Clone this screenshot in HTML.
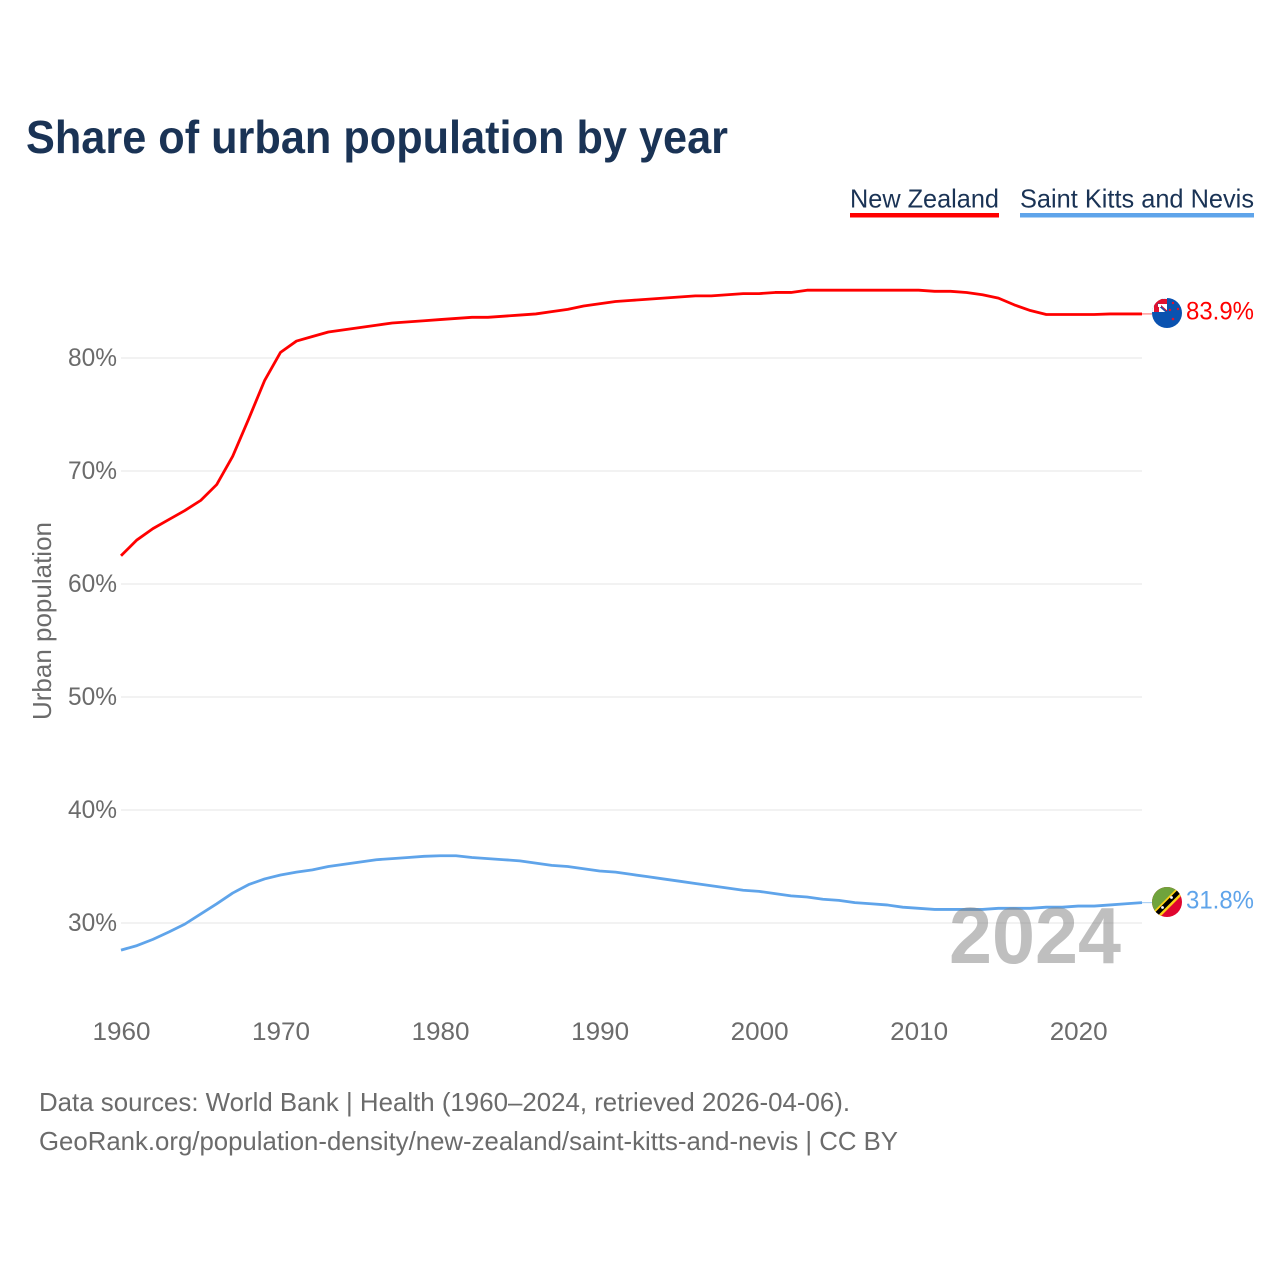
<!DOCTYPE html>
<html lang="en">
<head>
<meta charset="utf-8">
<title>Share of urban population by year</title>
<style>
html,body{margin:0;padding:0;background:#fff;}
svg{display:block;font-family:"Liberation Sans",sans-serif;}
</style>
</head>
<body>
<svg id="chart" width="1280" height="1280" viewBox="0 0 1280 1280" xmlns="http://www.w3.org/2000/svg">
  <defs>
    <clipPath id="flag-clip-nz"><circle cx="1167" cy="313" r="15"/></clipPath>
    <clipPath id="flag-clip-kn"><circle cx="1167" cy="902" r="15"/></clipPath>
  </defs>
  <rect width="1280" height="1280" fill="#ffffff"/>
  <text x="26" y="153" font-size="46" font-weight="700" fill="#1a3355" textLength="702" lengthAdjust="spacingAndGlyphs">Share of urban population by year</text>

  <g>
    <g>
      <text x="850" y="207.5" font-size="26" fill="#1a3355" textLength="149" lengthAdjust="spacingAndGlyphs">New Zealand</text>
      <rect x="850" y="213" width="149" height="4.5" fill="#ff0000"/>
    </g>
    <g>
      <text x="1020" y="207.5" font-size="26" fill="#1a3355" textLength="234" lengthAdjust="spacingAndGlyphs">Saint Kitts and Nevis</text>
      <rect x="1020" y="213" width="234" height="4.5" fill="#5fa4ea"/>
    </g>
  </g>

  <g id="grid"></g>
  <g id="y-axis"></g>
  <g id="x-axis"></g>
  <text transform="translate(51,720) rotate(-90)" font-size="26" fill="#6b6b6b" textLength="198" lengthAdjust="spacingAndGlyphs">Urban population</text>

  <g id="series"></g>

  <text x="949" y="963" font-size="80" font-weight="700" fill="#808080" fill-opacity="0.5" textLength="172" lengthAdjust="spacingAndGlyphs">2024</text>

  <g clip-path="url(#flag-clip-nz)">
    <rect x="1150" y="296" width="34" height="34" fill="#0a52b0"/>
    <rect x="1150" y="296" width="17" height="16" fill="#ffffff"/>
    <rect x="1150" y="299" width="17" height="5" fill="#e0102f"/>
    <rect x="1154" y="296" width="5" height="16" fill="#e0102f"/>
    <path d="M1158 304 L1167 312" stroke="#0a52b0" stroke-width="2.5"/>
    <path d="M1159 304 L1167 311" stroke="#e0102f" stroke-width="1"/>
    <rect x="1158" y="304" width="3" height="3" fill="#ffffff"/>
    <circle cx="1173" cy="303" r="1.2" fill="#e0102f"/>
    <circle cx="1178" cy="309" r="1.2" fill="#e0102f"/>
    <circle cx="1170" cy="310" r="1.2" fill="#e0102f"/>
    <circle cx="1173" cy="319" r="1.3" fill="#e0102f"/>
  </g>
  <g clip-path="url(#flag-clip-kn)">
    <rect x="1150" y="885" width="34" height="34" fill="#e0062f"/>
    <path d="M1150 885 H1184 L1150 919 Z" fill="#6fa33c"/>
    <path d="M1148 917 L1182 883 L1188 889 L1154 923 Z" fill="#fcd116"/>
    <path d="M1150 917.5 L1182.5 885 L1185.5 888 L1153 920.5 Z" fill="#000000"/>
    <circle cx="1162.5" cy="907.5" r="1.4" fill="#ffffff"/>
    <circle cx="1171.5" cy="897.5" r="1.4" fill="#ffffff"/>
  </g>

  <text x="1186" y="319.5" font-size="25" fill="#ff0000" textLength="68" lengthAdjust="spacingAndGlyphs">83.9%</text>
  <text x="1186" y="908.5" font-size="25" fill="#5fa4ea" textLength="68" lengthAdjust="spacingAndGlyphs">31.8%</text>

  <text x="39" y="1111" font-size="26" fill="#6b6b6b" textLength="811" lengthAdjust="spacingAndGlyphs">Data sources: World Bank | Health (1960–2024, retrieved 2026-04-06).</text>
  <text x="39" y="1150" font-size="26" fill="#6b6b6b" textLength="859" lengthAdjust="spacingAndGlyphs">GeoRank.org/population-density/new-zealand/saint-kitts-and-nevis | CC BY</text>
</svg>
<script>
const firstYear = 1960;
const yTicks = [30, 40, 50, 60, 70, 80];
const xTicks = [1960, 1970, 1980, 1990, 2000, 2010, 2020];
const newZealand = [62.5,63.9,64.9,65.7,66.5,67.4,68.8,71.3,74.6,78.0,80.5,81.5,81.9,82.3,82.5,82.7,82.9,83.1,83.2,83.3,83.4,83.5,83.6,83.6,83.7,83.8,83.9,84.1,84.3,84.6,84.8,85.0,85.1,85.2,85.3,85.4,85.5,85.5,85.6,85.7,85.7,85.8,85.8,86.0,86.0,86.0,86.0,86.0,86.0,86.0,86.0,85.9,85.9,85.8,85.6,85.3,84.7,84.2,83.85,83.85,83.85,83.85,83.9,83.9,83.9];
const saintKitts = [27.6,28.0,28.55,29.2,29.9,30.8,31.7,32.65,33.4,33.9,34.25,34.5,34.7,35.0,35.2,35.4,35.6,35.7,35.8,35.9,35.95,35.95,35.8,35.7,35.6,35.5,35.3,35.1,35.0,34.8,34.6,34.5,34.3,34.1,33.9,33.7,33.5,33.3,33.1,32.9,32.8,32.6,32.4,32.3,32.1,32.0,31.8,31.7,31.6,31.4,31.3,31.2,31.2,31.2,31.2,31.3,31.3,31.3,31.4,31.4,31.5,31.5,31.6,31.7,31.8];

const NS = 'http://www.w3.org/2000/svg';
function xScale(year) { return 121 + (year - 1960) * (1142 - 121) / 64; }
function yScale(v) { return 923 - (v - 30) * (923 - 358) / 50; }
function make(tag, attrs, parent) {
  const el = document.createElementNS(NS, tag);
  for (const k in attrs) el.setAttribute(k, attrs[k]);
  parent.appendChild(el);
  return el;
}
const grid = document.getElementById('grid');
const yAxis = document.getElementById('y-axis');
const xAxis = document.getElementById('x-axis');
const seriesGroup = document.getElementById('series');

yTicks.forEach(function (t) {
  const line = make('line', {x1: 121, x2: 1142, y1: yScale(t), y2: yScale(t), stroke: '#e9e9e9', 'stroke-width': 1.3}, grid);
  
  
  const label = make('text', {x: 117, y: yScale(t) + 8, 'font-size': 25, fill: '#6b6b6b', 'text-anchor': 'end', textLength: 49, lengthAdjust: 'spacingAndGlyphs'}, yAxis);
  
  
  label.textContent = t + '%';
});

xTicks.forEach(function (t) {
  const label = make('text', {x: xScale(t) + 0.5, y: 1040, 'font-size': 25, fill: '#6b6b6b', 'text-anchor': 'middle', textLength: 58, lengthAdjust: 'spacingAndGlyphs'}, xAxis);
  
  
  label.textContent = t;
});

function drawSeries(values, color, name) {
  const d = values.map(function (v, i) {
    return (i ? 'L' : 'M') + xScale(firstYear + i).toFixed(2) + ' ' + yScale(v).toFixed(2);
  }).join(' ');
  const path = make('path', {d: d, fill: 'none', stroke: color, 'stroke-width': 2.8, 'stroke-linejoin': 'round'}, seriesGroup);
  
  
  const lastY = yScale(values[values.length - 1]);
  const lead = make('line', {x1: xScale(firstYear + values.length - 1), x2: 1152, y1: lastY, y2: lastY, stroke: color, 'stroke-width': 1, 'stroke-opacity': 0.6}, seriesGroup);
  
  
}
drawSeries(newZealand, '#ff0000', 'line-new-zealand');
drawSeries(saintKitts, '#5fa4ea', 'line-saint-kitts-and-nevis');
</script>
</body>
</html>
